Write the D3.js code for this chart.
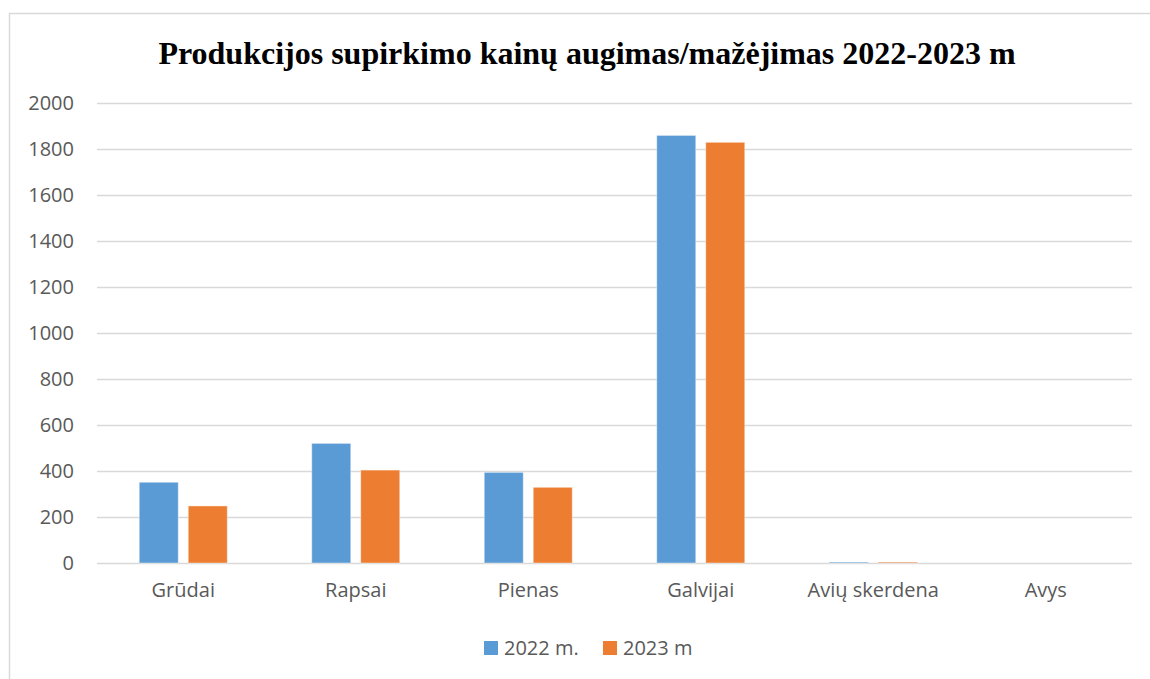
<!DOCTYPE html>
<html>
<head>
<meta charset="utf-8">
<script src="https://cdn.jsdelivr.net/npm/d3@7"></script>
<style>
  body { margin: 0; background: #fff; }
  svg { display: block; }
</style>
</head>
<body>
<svg width="1150" height="679"></svg>
<script>
// chart values
const categories = ["Grūdai", "Rapsai", "Pienas", "Galvijai", "Avių skerdena", "Avys"];
const series = ["2022 m.", "2023 m"];
const values2022 = [351, 520, 394, 1859, 4, 0];
const values2023 = [248, 404, 329, 1829, 4, 0];
const yTicks = [0, 200, 400, 600, 800, 1000, 1200, 1400, 1600, 1800, 2000];
const colors = ["#5b9bd5", "#ed7d31"];

const svg = d3.select("svg");
const width = +svg.attr("width");
const height = +svg.attr("height");

const margin = { top: 103, right: 18, bottom: 116, left: 97 };
const innerWidth = width - margin.left - margin.right;
const innerHeight = height - margin.top - margin.bottom;
const labelFont = "Open Sans, Calibri, sans-serif";

// outer chart border (runs off the right and bottom like the reference)
svg.append("path")
  .attr("d", `M9.5,${height}V13.5H${width}`)
  .attr("fill", "none")
  .attr("stroke", "#d9d9d9")
  .attr("stroke-width", 1.5);

svg.append("text")
  .attr("x", 587)
  .attr("y", 64)
  .attr("text-anchor", "middle")
  .attr("font-family", "Liberation Serif, Times New Roman, serif")
  .attr("font-weight", "bold")
  .attr("font-size", 32)
  .attr("fill", "#000")
  .text("Produkcijos supirkimo kainų augimas/mažėjimas 2022-2023 m");

const xScale = d3.scaleBand()
  .domain(categories)
  .range([0, innerWidth]);

const yScale = d3.scaleLinear()
  .domain([0, 2000])
  .range([innerHeight, 0]);

const g = svg.append("g")
  .attr("transform", `translate(${margin.left}, ${margin.top})`);

// gridlines + y labels
const yAxis = d3.axisLeft(yScale)
  .tickValues(yTicks)
  .tickFormat(d3.format("d"))
  .tickSize(-innerWidth)
  .tickPadding(23);

const yAxisG = g.append("g").call(yAxis);
yAxisG.select(".domain").remove();
yAxisG.selectAll(".tick line").attr("stroke", "#d9d9d9").attr("stroke-width", 1.5);
yAxisG.selectAll(".tick text")
  .attr("font-family", labelFont)
  .attr("font-size", 20)
  .attr("fill", "#595959");

const xAxisG = g.append("g")
  .attr("transform", `translate(0, ${innerHeight})`)
  .call(d3.axisBottom(xScale).tickSize(0).tickPadding(20));
xAxisG.select(".domain").remove();
xAxisG.selectAll(".tick text")
  .attr("font-family", labelFont)
  .attr("font-size", 20)
  .attr("fill", "#595959");

// bars
const barWidth = 39;
const barGap = 10;
const rows = categories.map((c, i) => ({ category: c, values: [values2022[i], values2023[i]] }));

const groups = g.selectAll(".group")
  .data(rows)
  .enter()
  .append("g")
  .attr("transform", d => `translate(${xScale(d.category) + xScale.bandwidth() / 2}, 0)`);

groups.selectAll("rect")
  .data(d => d.values)
  .enter()
  .append("rect")
  .attr("x", (d, i) => i === 0 ? -barGap / 2 - barWidth : barGap / 2)
  .attr("y", d => yScale(d))
  .attr("width", barWidth)
  .attr("height", d => innerHeight - yScale(d))
  .attr("fill", (d, i) => colors[i])
  .attr("stroke", "#fff")
  .attr("stroke-opacity", 0.4)
  .attr("stroke-width", 1);

// legend
const legend = svg.append("g").attr("transform", "translate(484, 655)");
const legendX = [0, 119];
series.forEach((s, i) => {
  const item = legend.append("g").attr("transform", `translate(${legendX[i]}, 0)`);
  item.append("rect")
    .attr("x", 0).attr("y", -14)
    .attr("width", 14).attr("height", 14)
    .attr("fill", colors[i]);
  item.append("text")
    .attr("x", 20).attr("y", 0)
    .attr("font-family", labelFont)
    .attr("font-size", 20)
    .attr("fill", "#595959")
    .text(s);
});
</script>
</body>
</html>
